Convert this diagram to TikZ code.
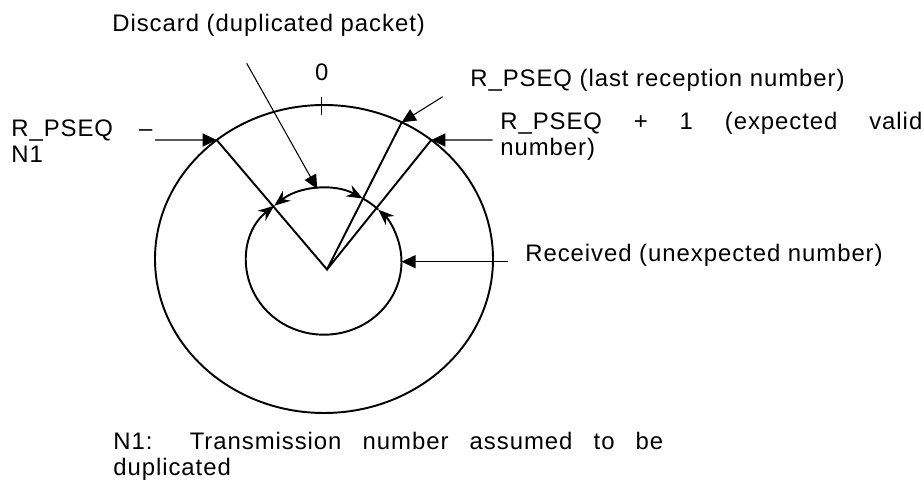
\documentclass[tikz,border=0pt]{standalone}
\usepackage{fontspec}
\setmainfont{Liberation Sans}[LetterSpace=4]
\usepackage{tikz}
\usetikzlibrary{arrows.meta}

\begin{document}
\begin{tikzpicture}
	\tikzstyle{ring} = [draw, line width=1.1pt]
	\tikzstyle{spoke} = [draw, line width=1.1pt]
	\tikzstyle{pointer} = [draw, line width=0.6pt, -{Triangle[length=0.28cm, width=0.26cm]}]
	\tikzstyle{span} = [draw, line width=1.1pt, {Stealth[length=0.32cm, width=0.25cm]}-{Stealth[length=0.32cm, width=0.25cm]}]
	\tikzstyle{txt} = [inner sep=0pt, anchor=base west, font=\fontsize{13.6}{14.8}\selectfont]
	\useasboundingbox (0,0) rectangle (18.46,9.62);
	% Place rings
	\coordinate (oc) at (6.48,4.44);
	\coordinate (ic) at (6.48,4.386);
	\coordinate (v) at (6.54,4.23);
	\path [ring] (oc) ellipse [x radius=3.38, y radius=3.08];
	\path [span] (ic) ++(60:1.55 and 1.46) arc [start angle=60, end angle=130, x radius=1.55, y radius=1.46];
	\path [span] (ic) ++(130:1.55 and 1.46) arc [start angle=130, end angle=405.5, x radius=1.55, y radius=1.46];
	\path [ring] (ic) ++(45.5:1.55 and 1.46) arc [start angle=45.5, end angle=60, x radius=1.55, y radius=1.46];
	% Points on the rings
	\path (oc) ++(129.4:3.38 and 3.08) coordinate (ol);
	\path (oc) ++(62.6:3.38 and 3.08) coordinate (or1);
	\path (oc) ++(50.6:3.38 and 3.08) coordinate (or2);
	\path (oc) ++(91:3.38 and 3.08) coordinate (tk);
	\path (ic) ++(0:1.55 and 1.46) coordinate (ir);
	\path (ic) ++(95:1.55 and 1.46) coordinate (it);
	% Place labels
	\node [txt] (dsc) at (2.24,8.99) {Discard (duplicated packet)};
	\node [txt, anchor=base] (zero) at (6.434,8.0) {0};
	\node [txt] (last) at (9.40,7.89) {R\_PSEQ (last reception number)};
	\node [txt, text width=8.44cm, align=justify] (next) at (10.0,7.02) {R\_PSEQ + 1 (expected valid\linebreak number)};
	\node [txt] (rcv) at (10.5,4.39) {Received (unexpected number)};
	\node [txt, text width=2.82cm, align=justify] (low) at (0.22,6.89) {R\_PSEQ –\linebreak N1};
	\node [txt, text width=11cm, align=justify] (note) at (2.26,0.62) {N1: Transmission number assumed to be\linebreak duplicated};
	% Leader ends
	\coordinate (dsc-e) at (4.934,8.354);
	\coordinate (last-e) at (8.854,7.686);
	\coordinate (next-e) at (9.854,6.82);
	\coordinate (rcv-e) at (10.16,4.386);
	\coordinate (low-e) at (3.10,6.82);
	% Draw edges
	\path [spoke] (ol) -- (v) -- (or1);
	\path [spoke] (v) -- (or2);
	\path [draw, line width=0.6pt] (tk) ++(0,0.17) -- ++(0,-0.37);
	\path [pointer] (dsc-e) -- (it);
	\path [pointer] (last-e) -- (or1);
	\path [pointer] (next-e) -- (or2);
	\path [pointer] (rcv-e) -- (ir);
	\path [pointer] (low-e) -- (ol);
\end{tikzpicture}
\end{document}
